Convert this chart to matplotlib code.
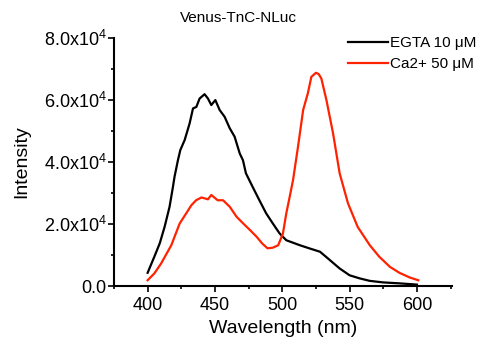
"""Espectro de emisión Venus-TnC-NLuc con EGTA y con Ca2+."""
import matplotlib
matplotlib.use("Agg")
import matplotlib.pyplot as plt
from matplotlib.ticker import MultipleLocator, FixedLocator, FixedFormatter

plt.rcParams['font.family'] = ['Liberation Sans', 'DejaVu Sans']
plt.rcParams['mathtext.fontset'] = 'custom'
plt.rcParams['mathtext.rm'] = 'Liberation Sans'
plt.rcParams['mathtext.it'] = 'Liberation Sans'

# EGTA 10 uM (negro)
wl_egta = [400, 405, 409, 412.6, 416.3, 418.8, 420, 422.5, 424.3, 427.5, 431.2, 433.7,
           436.2, 438.6, 442.3, 444.8, 447.3, 450.3, 453.5, 457.2, 461, 464.6, 468.4,
           470.8, 473, 478, 483, 488, 493, 498, 503, 508, 513, 520, 528, 534, 542.6,
           550, 557.5, 565, 575, 587, 600]
int_egta = [4300, 9500, 13800, 19100, 25600, 32000, 35300, 40600, 43900, 47100, 52500,
            57300, 57800, 60500, 61900, 60500, 58400, 60000, 56800, 54600, 50900, 48200,
            42800, 40600, 36400, 32000, 27700, 23500, 20200, 17000, 14800, 14000, 13200,
            12200, 11100, 8900, 5700, 3500, 2500, 1700, 1200, 900, 500]

# Ca2+ 50 uM (rojo)
wl_ca = [400, 405, 410, 417.6, 423.8, 428.7, 432.5, 436, 440, 444.8, 447.3, 452, 456,
         461, 466, 471, 476, 481, 485, 489, 493, 497, 500.5, 503, 505.5, 508, 511.7,
         515.5, 519, 521.6, 525, 527, 529, 532.8, 537.7, 542.6, 548.8, 556, 565, 572,
         580, 587, 594.6, 601]
int_ca = [1900, 4100, 7300, 13200, 20200, 23500, 26100, 27700, 28600, 28000, 29400,
          27700, 27700, 25600, 22400, 20200, 18100, 15900, 13800, 12200, 12400, 13200,
          17000, 23500, 28800, 34200, 45000, 56800, 62200, 67500, 68800, 68400, 67000,
          60000, 49300, 36400, 26700, 19100, 13200, 9500, 6200, 4300, 2800, 1900]

y_ticks = [0, 20000, 40000, 60000, 80000]
y_labels = ['0.0', '2.0x10$^4$', '4.0x10$^4$', '6.0x10$^4$', '8.0x10$^4$']

fig = plt.figure(figsize=(4.87, 3.46), dpi=100)
ax = fig.add_axes([0.234, 0.173, 0.694, 0.717])

ax.plot(wl_egta, int_egta, color='black', lw=1.6, label='EGTA 10 μM')
ax.plot(wl_ca, int_ca, color='#ff2200', lw=1.6, label='Ca2+ 50 μM')

ax.set_xlim(375, 626)
ax.set_ylim(0, 80000)
ax.xaxis.set_major_locator(MultipleLocator(50))
ax.xaxis.set_minor_locator(MultipleLocator(25))
ax.yaxis.set_major_locator(FixedLocator(y_ticks))
ax.yaxis.set_major_formatter(FixedFormatter(y_labels))
ax.yaxis.set_minor_locator(MultipleLocator(10000))

for side in ['top', 'right']:
    ax.spines[side].set_visible(False)
for side in ['left', 'bottom']:
    ax.spines[side].set_linewidth(1.5)
ax.tick_params(which='major', direction='out', length=4, width=1.2, labelsize=13)
ax.tick_params(which='minor', direction='out', length=2.5, width=1.2)
ax.tick_params(axis='y', pad=1.5)
ax.tick_params(axis='x', pad=3.5)

ax.set_xlabel('Wavelength (nm)', fontsize=14)
ax.set_ylabel('Intensity', fontsize=14)
ax.xaxis.set_label_coords(0.5, -0.169)
ax.yaxis.set_label_coords(-0.272, 0.5)
ax.xaxis.label.set_va('center')
ax.yaxis.label.set_va('center')

fig.text(0.489, 0.949, 'Venus-TnC-NLuc', fontsize=11, ha='center', va='center')

fig.legend(loc='upper left', bbox_to_anchor=(0.715, 0.896), frameon=False,
           fontsize=11, handlelength=2.6, handletextpad=0.15, labelspacing=0.45,
           borderpad=0, borderaxespad=0)

fig.savefig('out.png', dpi=100)
